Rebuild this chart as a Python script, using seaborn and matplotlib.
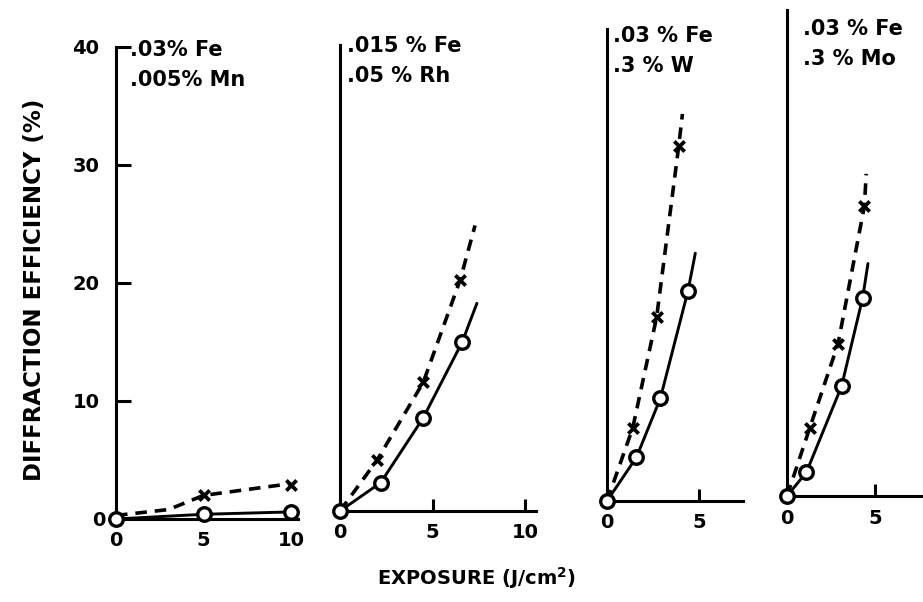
import numpy as np
import pandas as pd
import seaborn as sns
import matplotlib.pyplot as plt

# values (exposure J/cm2, efficiency %)
labels = [['.03% Fe', '.005% Mn'],
          ['.015 % Fe', '.05 % Rh'],
          ['.03 % Fe', '.3 % W'],
          ['.03 % Fe', '.3 % Mo']]

# open circles + solid curve
circ_x = [[0, 5, 10], [0, 2.2, 4.5, 6.6], [0, 1.6, 2.9, 4.4], [0, 1.1, 3.1, 4.3]]
circ_y = [[0, 0.4, 0.6], [0, 2.4, 7.9, 14.3], [0, 3.7, 8.7, 17.8], [0, 2.0, 9.3, 16.8]]
solid_x = [[0, 5, 10], [0, 2.2, 4.5, 6.6, 7.4], [0, 1.6, 2.9, 4.4, 4.8], [0, 1.1, 3.1, 4.3, 4.6]]
solid_y = [[0, 0.4, 0.6], [0, 2.4, 7.9, 14.3, 17.6], [0, 3.7, 8.7, 17.8, 21.0], [0, 2.0, 9.3, 16.8, 19.7]]

# x marks + dashed curve
xm_x = [[5, 10], [2.0, 4.5, 6.5], [1.4, 2.7, 3.9], [1.3, 2.9, 4.4]]
xm_y = [[2.0, 2.9], [4.3, 10.9, 19.6], [6.2, 15.6, 30.1], [5.8, 12.9, 24.6]]
dash_x = [[0, 3, 5, 10], [0, 2.0, 4.5, 6.5, 7.3], [0, 1.4, 2.7, 3.9, 4.1], [0, 1.3, 2.9, 4.4, 4.5]]
dash_y = [[0.3, 0.8, 2.0, 3.0], [0, 4.3, 10.9, 19.6, 24.2], [0, 6.2, 15.6, 30.1, 32.8], [0, 5.8, 12.9, 24.6, 27.3]]

x_ticks = [[0, 5, 10], [0, 5, 10], [0, 5], [0, 5]]
y_ticks = [10, 20, 30, 40]

sns.set_style("white")
plt.rcParams['font.family'] = ['DejaVu Sans']
plt.rcParams['text.color'] = 'black'
plt.rcParams['xtick.color'] = 'black'
plt.rcParams['ytick.color'] = 'black'

W, H = 923, 602
fig = plt.figure(figsize=(W / 100, H / 100), dpi=100)

# panel placement in pixels: origin x, px per unit x, x max, baseline y, y max
px0 = [116, 340, 607, 787]
pxs = [17.5, 18.5, 18.4, 17.6]
xmax = [10.4, 10.6, 7.4, 8.2]
base = [519, 511, 501, 496]
ymax = [40, 39.5, 40, 41.2]
pys = 11.8
txt_x = [130, 347, 613, 803]
txt_y = [50, 46, 36, 29]

lw = 2.2
for i in range(4):
    ax = fig.add_axes([px0[i] / W, (H - base[i]) / H,
                       xmax[i] * pxs[i] / W, ymax[i] * pys / H])
    ax.set_facecolor('none')
    solid_df = pd.DataFrame({'x': solid_x[i], 'y': solid_y[i]})
    dash_df = pd.DataFrame({'x': dash_x[i], 'y': dash_y[i]})
    sns.lineplot(data=solid_df, x='x', y='y', color='black', lw=2.1,
                 clip_on=False, ax=ax, zorder=3)
    sns.lineplot(data=dash_df, x='x', y='y', color='black', lw=2.6,
                 linestyle=(0, (3.2, 2.2)), clip_on=False, ax=ax, zorder=3)
    sns.scatterplot(x=xm_x[i], y=xm_y[i], marker='x', s=55, color='black',
                    linewidth=2.7, clip_on=False, ax=ax, zorder=5)
    sns.scatterplot(x=circ_x[i], y=circ_y[i], marker='o', s=95, facecolor='white',
                    edgecolor='black', linewidth=2.4, clip_on=False, ax=ax, zorder=6)
    ax.set_xlim(0, xmax[i])
    ax.set_ylim(0, ymax[i])
    for s in ['top', 'right']:
        ax.spines[s].set_visible(False)
    for s in ['left', 'bottom']:
        ax.spines[s].set_linewidth(lw)
        ax.spines[s].set_color('black')
    ax.set_xticks(x_ticks[i])
    ax.set_xticklabels([str(t) for t in x_ticks[i]], fontsize=14, fontweight='bold')
    ax.tick_params(axis='x', direction='in', length=9, width=lw, pad=9, bottom=True)
    if i == 0:
        ax.set_yticks(y_ticks)
        ax.set_yticklabels([str(t) for t in y_ticks], fontsize=14, fontweight='bold')
        ax.tick_params(axis='y', direction='in', length=11, width=lw, pad=12, left=True)
    else:
        ax.set_yticks([])
    ax.set_xlabel('')
    ax.set_ylabel('')
    fig.text(txt_x[i] / W, 1 - txt_y[i] / H, labels[i][0], fontsize=15,
             fontweight='bold', va='center', ha='left')
    fig.text(txt_x[i] / W, 1 - (txt_y[i] + 30) / H, labels[i][1], fontsize=15,
             fontweight='bold', va='center', ha='left')

# zero label on the y axis of the first panel
fig.text(99 / W, 1 - 520 / H, '0', fontsize=14, fontweight='bold', va='center', ha='center')

fig.text(35 / W, 1 - 290 / H, 'DIFFRACTION EFFICIENCY (%)', rotation=90,
         fontsize=16.5, fontweight='bold', va='center', ha='center')
fig.text(476 / W, 1 - 578 / H, r'EXPOSURE (J/cm$^{\mathbf{2}}$)',
         fontsize=14, fontweight='bold', va='center', ha='center')

plt.savefig('out.png', dpi=100)
